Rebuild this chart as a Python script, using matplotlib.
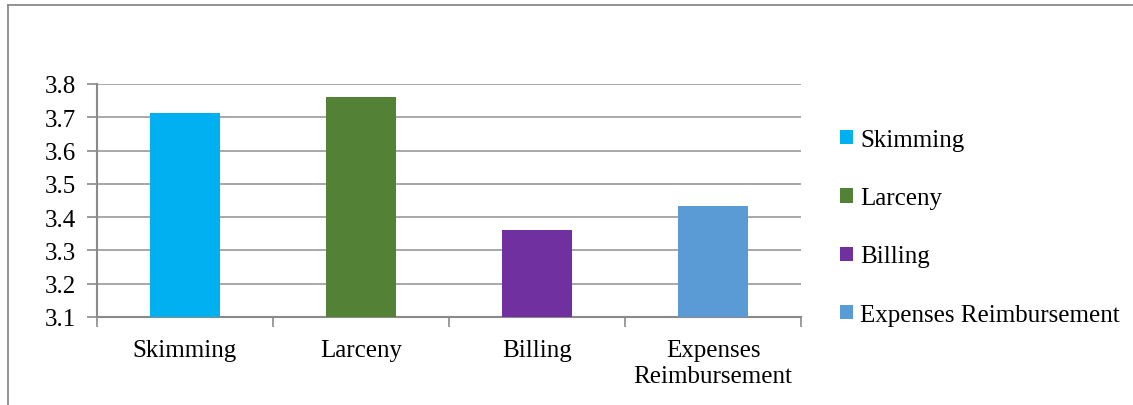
import matplotlib
matplotlib.use("Agg")
import matplotlib.pyplot as plt
from matplotlib.lines import Line2D
from matplotlib.patches import Patch
from matplotlib import font_manager

categories = ["Skimming", "Larceny", "Billing", "Expenses Reimbursement"]
tick_labels = ["Skimming", "Larceny", "Billing", "Expenses\nReimbursement"]
values = [3.713, 3.76, 3.362, 3.432]
colors = ["#00B0F0", "#538135", "#7030A0", "#5B9BD5"]
yticks = [3.1, 3.2, 3.3, 3.4, 3.5, 3.6, 3.7, 3.8]

serif_files = [f.fname for f in font_manager.fontManager.ttflist
               if "liberationserif-regular" in f.fname.lower().replace(" ", "")]
if serif_files:
    fam = font_manager.FontProperties(fname=serif_files[0]).get_name()
    plt.rcParams["font.family"] = [fam, "DejaVu Serif"]
else:
    plt.rcParams["font.family"] = ["Liberation Serif", "DejaVu Serif"]

FS = 18
W, H = 1133, 406
fig = plt.figure(figsize=(W / 100, H / 100), dpi=100)
ax = fig.add_axes([97 / W, 1 - 318 / H, (801 - 97) / W, (318 - 85) / H])

x = list(range(len(categories)))
ax.bar(x, values, width=0.40, color=colors, zorder=3)
ax.set_xlim(-0.5, len(categories) - 0.5)
ax.set_ylim(3.1, 3.8)
ax.set_yticks(yticks)
ax.set_yticklabels([f"{v:.1f}" for v in yticks], fontsize=FS)
ax.yaxis.grid(True, color="#9a9a9a", linewidth=1.2, zorder=0)
ax.set_axisbelow(True)

ax.set_xticks(x)
ax.set_xticklabels(tick_labels, fontsize=FS, linespacing=1.2)
ax.tick_params(axis="x", length=0, pad=16)
ax.set_xticks([i + 0.5 for i in range(-1, len(categories))], minor=True)
ax.tick_params(axis="x", which="minor", length=7, color="#8a8a8a", width=1.2)
ax.tick_params(axis="y", length=7, color="#8a8a8a", width=1.2, pad=8)

for s in ["top", "right"]:
    ax.spines[s].set_visible(False)
for s in ["left", "bottom"]:
    ax.spines[s].set_color("#8a8a8a")
    ax.spines[s].set_linewidth(1.5)

handles = [Patch(facecolor=c, edgecolor="none") for c in colors]
fig.legend(handles, categories, loc="upper left", bbox_to_anchor=(840 / W, 1 - 130 / H),
           frameon=False, fontsize=FS, handlelength=0.5, handleheight=0.5,
           handletextpad=0.3, labelspacing=1.45, borderaxespad=0, borderpad=0)

fig.add_artist(Line2D([8 / W, 1132 / W], [1 - 6 / H, 1 - 6 / H], transform=fig.transFigure,
                      color="#8a8a8a", linewidth=1.3))
fig.add_artist(Line2D([8 / W, 8 / W], [1 - 6 / H, 0], transform=fig.transFigure,
                      color="#8a8a8a", linewidth=1.3))

fig.savefig("out.png", dpi=100, facecolor="white")
